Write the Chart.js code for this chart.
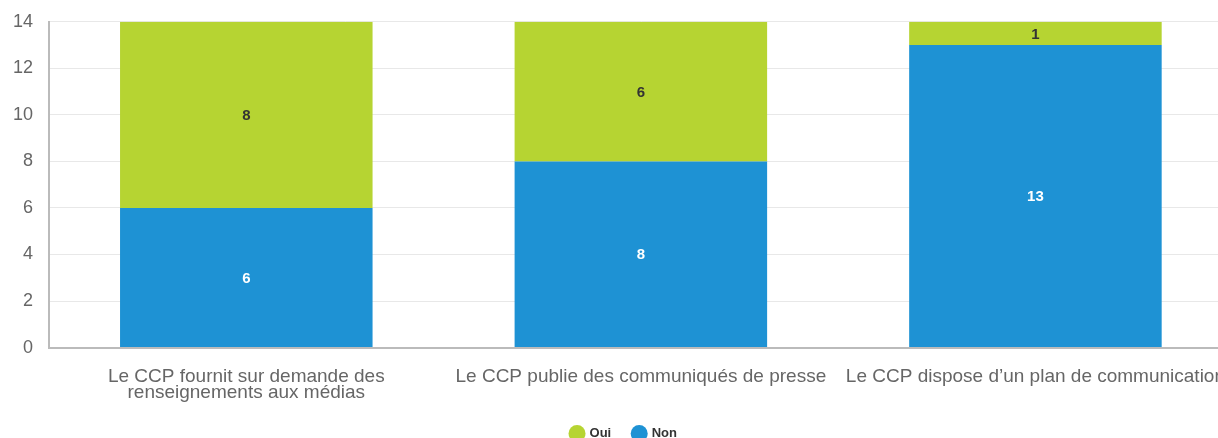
<!DOCTYPE html>
<html>
<head>
  <meta charset="utf-8">
  <title>CCP communication</title>
  <script src="https://cdn.jsdelivr.net/npm/chart.js"></script>
  <style>
    body {
      margin: 0;
      background-color: #fff;
      overflow: hidden;
    }
    .chart-container {
      width: 1239px;
      height: 438px;
    }
  </style>
</head>
<body>
  <div class="chart-container">
    <canvas id="ccpChart"></canvas>
  </div>
  <script>
    var categories = [
      ['Le CCP fournit sur demande des', 'renseignements aux médias'],
      'Le CCP publie des communiqués de presse',
      'Le CCP dispose d\u2019un plan de communication'
    ];
    var nonValues = [6, 8, 13];
    var ouiValues = [8, 6, 1];
    var yTicks = [0, 2, 4, 6, 8, 10, 12, 14];

    // petit plugin maison pour écrire la valeur au milieu de chaque segment
    var valueLabels = {
      id: 'valueLabels',
      afterDatasetsDraw: function(chart) {
        var ctx = chart.ctx;
        ctx.save();
        ctx.font = 'bold 15px "Liberation Sans", Arial, sans-serif';
        ctx.textAlign = 'center';
        ctx.textBaseline = 'middle';
        chart.data.datasets.forEach(function(ds, i) {
          var meta = chart.getDatasetMeta(i);
          meta.data.forEach(function(bar, j) {
            var p = bar.getProps(['x', 'y', 'base'], true);
            ctx.fillStyle = ds.labelColor;
            ctx.fillText(ds.data[j], p.x, (p.y + p.base) / 2 + 1);
          });
        });
        ctx.restore();
      }
    };

    // recale la légende de quelques pixels
    var legendShift = {
      id: 'legendShift',
      afterLayout: function(chart) {
        chart.legend.top -= 9;
        chart.legend.bottom -= 9;
        chart.legend.left += 6;
        chart.legend.right += 6;
      }
    };

    var ctx = document.getElementById('ccpChart').getContext('2d');
    var ccpChart = new Chart(ctx, {
      type: 'bar',
      data: {
        labels: categories,
        datasets: [{
          label: 'Non',
          data: nonValues,
          backgroundColor: '#1e92d4',
          labelColor: '#ffffff'
        }, {
          label: 'Oui',
          data: ouiValues,
          backgroundColor: '#b6d432',
          labelColor: '#333333'
        }]
      },
      options: {
        responsive: true,
        maintainAspectRatio: false,
        animation: false,
        layout: {
          padding: { left: -3, top: 0, right: 0, bottom: -21 }
        },
        datasets: {
          bar: {
            categoryPercentage: 0.64,
            barPercentage: 1
          }
        },
        scales: {
          x: {
            stacked: true,
            grid: { display: false },
            border: { color: '#bbbbbb', width: 2 },
            ticks: {
              color: '#666666',
              maxRotation: 0,
              autoSkip: false,
              padding: 14,
              font: { family: '"Liberation Sans", Arial, sans-serif', size: 19, lineHeight: 0.8 }
            }
          },
          y: {
            stacked: true,
            min: 0,
            max: 14,
            afterBuildTicks: function(axis) {
              axis.ticks = yTicks.map(function(v) { return { value: v }; });
            },
            grid: { color: '#e8e8e8', drawTicks: false },
            border: { color: '#bbbbbb', width: 2 },
            ticks: {
              color: '#666666',
              padding: 16,
              font: { family: '"Liberation Sans", Arial, sans-serif', size: 18, lineHeight: 0.65 }
            }
          }
        },
        plugins: {
          legend: {
            position: 'bottom',
            reverse: true,
            labels: {
              usePointStyle: true,
              pointStyle: 'circle',
              boxWidth: 12,
              boxHeight: 12,
              padding: 22,
              color: '#333333',
              font: { family: '"Liberation Sans", Arial, sans-serif', size: 13, weight: 'bold' }
            }
          },
          tooltip: { enabled: false }
        }
      },
      plugins: [valueLabels, legendShift]
    });
  </script>
</body>
</html>
